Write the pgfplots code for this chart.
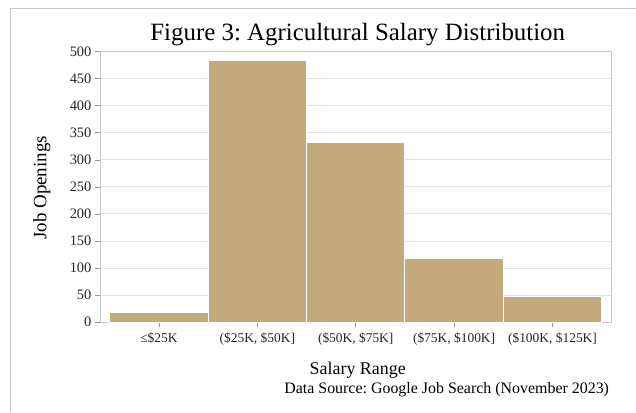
\documentclass[border=0pt]{standalone}
\usepackage{fontspec}
\setmainfont{Liberation Serif}
\usepackage{pgfplots}
\pgfplotsset{compat=1.18}
\definecolor{bar}{RGB}{196,169,124}
\definecolor{gridc}{RGB}{226,226,226}
\definecolor{framec}{RGB}{200,200,200}
\definecolor{tickc}{RGB}{150,150,150}
\frenchspacing
\begin{document}
\begin{tikzpicture}[x=1bp,y=1bp]
\path (0,0) rectangle (636,412);
\draw[color=framec, line width=1bp] (10.5,0) -- (10.5,403.5) -- (636,403.5);
\begin{axis}[
  at={(100bp,89.7bp)}, anchor=south west,
  scale only axis, width=512bp, height=270.6bp,
  xmin=-0.6, xmax=4.6, ymin=0, ymax=500,
  ytick={0,50,...,500},
  xtick={0,1,2,3,4},
  xticklabels={{\char"2264\$25K},{(\$25K, \$50K]},{(\$50K, \$75K]},{(\$75K, \$100K]},{(\$100K, \$125K]}},
  ymajorgrids, grid style={color=gridc, line width=0.8bp},
  axis line style={color=framec, line width=0.8bp},
  tick style={color=tickc, line width=0.6bp},
  tick align=outside, major tick length=5bp,
  xtick pos=bottom, ytick pos=left,
  /pgf/number format/assume math mode=true,
  yticklabel style={font=\fontsize{14.5}{16}\selectfont, color=black!85},
  xticklabel style={font=\fontsize{13.5}{15}\selectfont, color=black!85, yshift=-2bp},
  ybar, bar width=1, bar shift=0pt,
  axis on top=false,
]
\addplot[fill=bar, draw=white, line width=1bp] coordinates {(0,17) (1,483) (2,332) (3,117) (4,47)};
\end{axis}
\node[font=\fontsize{25}{28}\selectfont] at (358,377) {Figure 3: Agricultural Salary Distribution};
\node[font=\fontsize{19}{22}\selectfont, rotate=90] at (42,224) {Job Openings};
\node[font=\fontsize{18}{21}\selectfont] at (358,41) {Salary Range};
\node[font=\fontsize{16}{18}\selectfont, anchor=east] at (613,22) {Data Source: Google Job Search (November 2023)};
\end{tikzpicture}
\end{document}
